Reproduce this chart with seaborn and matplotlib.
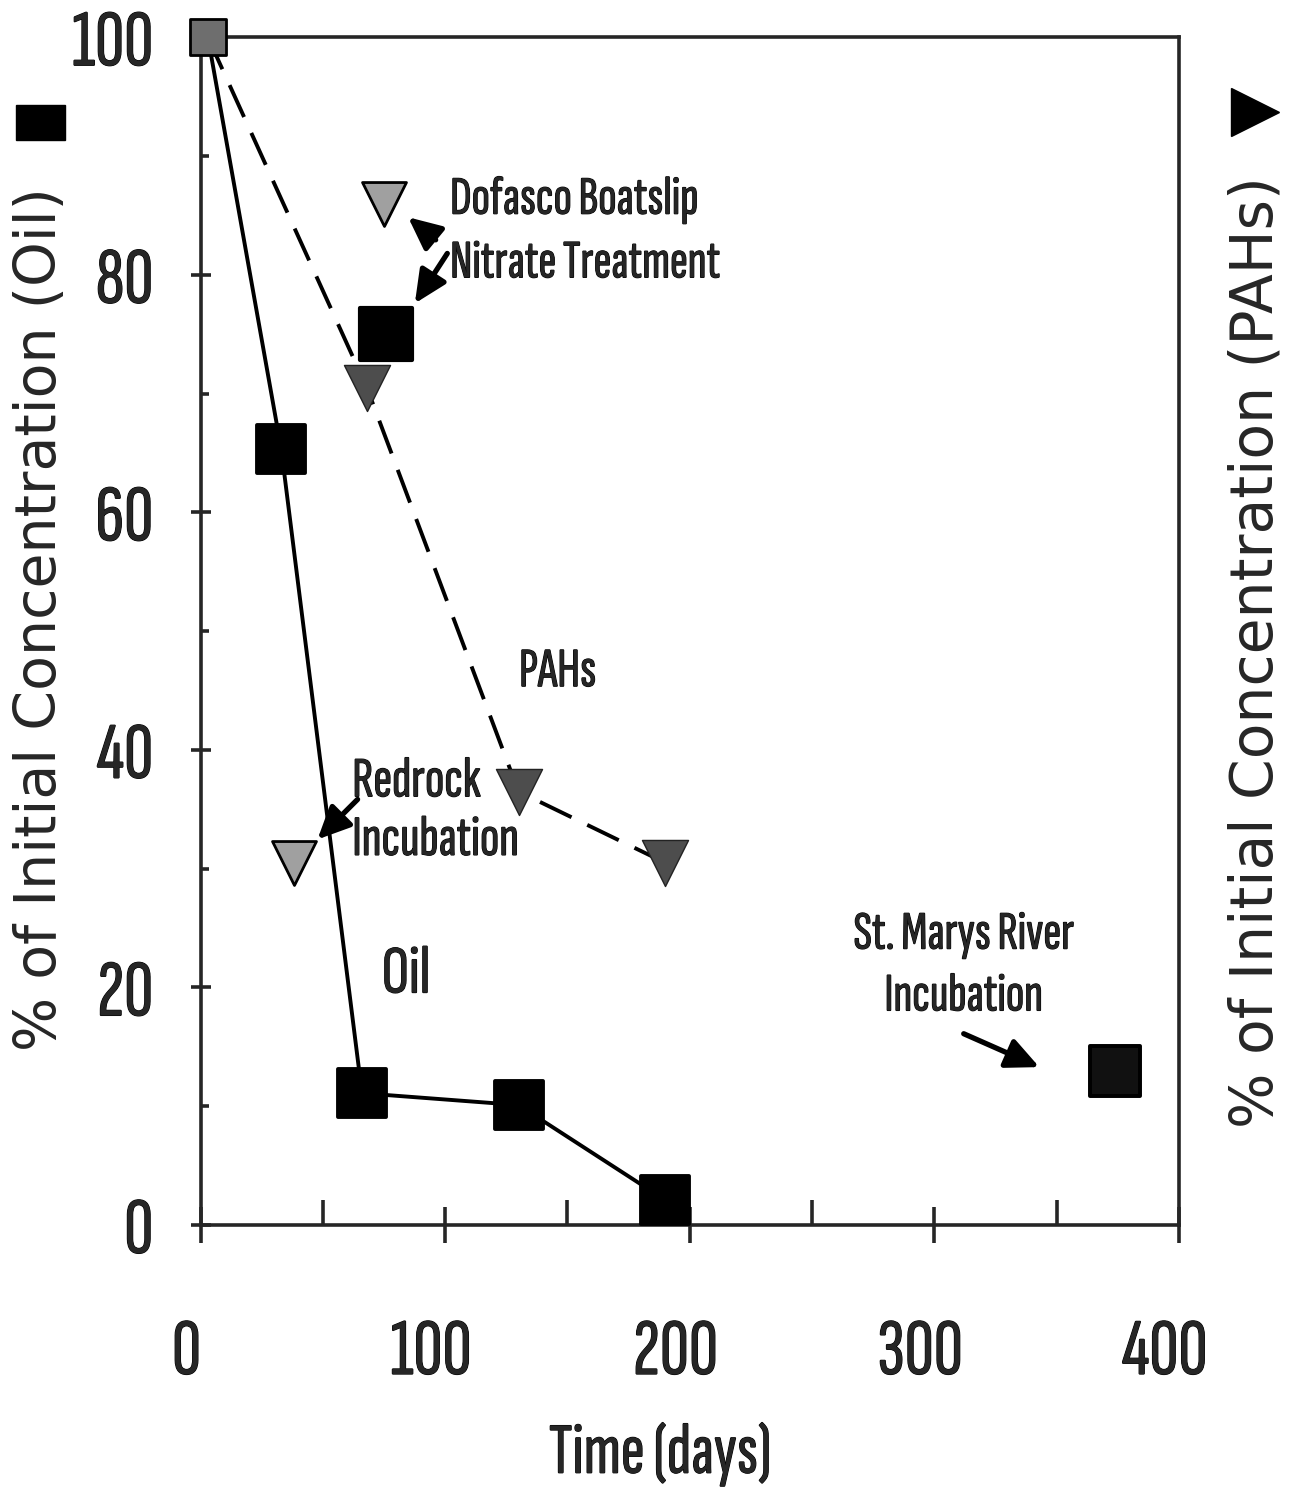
import numpy as np
import pandas as pd
import seaborn as sns
import matplotlib.pyplot as plt
import matplotlib.transforms as mtransforms
import matplotlib.patheffects as pe
from matplotlib.patches import Rectangle

# main incubation series (days, % of initial concentration)
oil_days = [3, 33, 66, 130, 190]
oil_pct = [100, 65.3, 11.1, 10.1, 2.1]
pah_days = [3, 68, 130, 190]
pah_pct = [100, 70.5, 36.5, 30.5]

# single-site points
dofasco_days = [76]
dofasco_oil = [75]
dofasco_pah_days = [75]
dofasco_pah = [86]
redrock_days = [38]
redrock_pah = [30.5]
stmarys_days = [374]
stmarys_oil = [13]

x_ticks = [0, 100, 200, 300, 400]
y_ticks = [0, 20, 40, 60, 80, 100]

sns.set_style("ticks")
narrow = ["Sofia Sans Extra Condensed", "Roboto Condensed", "DejaVu Sans"]
wide = ["DejaVu Sans"]
plt.rcParams["font.family"] = narrow
bold = [pe.withStroke(linewidth=0.8, foreground="black")]

fig = plt.figure(figsize=(12.94, 14.93), dpi=100)
ax = fig.add_axes([0.155, 0.1795, 0.756, 0.7955])

oil = pd.DataFrame({"days": oil_days, "pct": oil_pct})
pah = pd.DataFrame({"days": pah_days, "pct": pah_pct})

sns.lineplot(data=pah, x="days", y="pct", ax=ax, color="black", lw=2.8, zorder=2)
ax.lines[-1].set_dashes([9, 4.5])
sns.lineplot(data=oil, x="days", y="pct", ax=ax, color="black", lw=2.8, zorder=2)

sns.scatterplot(x=pah_days[1:], y=pah_pct[1:], ax=ax, marker="v", s=1100,
                color="#4d4d4d", edgecolor="#222222", linewidth=1, zorder=3)
sns.scatterplot(x=oil_days[1:], y=oil_pct[1:], ax=ax, marker="s", s=1200,
                color="black", edgecolor="black", zorder=4)
sns.scatterplot(x=oil_days[:1], y=oil_pct[:1], ax=ax, marker="s", s=650,
                color="#6e6e6e", edgecolor="black", linewidth=2, zorder=5, clip_on=False)
sns.scatterplot(x=dofasco_days, y=dofasco_oil, ax=ax, marker="s", s=1400,
                color="black", edgecolor="black", zorder=4)
sns.scatterplot(x=stmarys_days, y=stmarys_oil, ax=ax, marker="s", s=1250,
                color="#111111", edgecolor="black", zorder=4)
sns.scatterplot(x=dofasco_pah_days + redrock_days, y=dofasco_pah + redrock_pah, ax=ax,
                marker="v", s=1000, color="#a0a0a0", edgecolor="black", linewidth=2, zorder=3)

ax.set_xlim(0, 400)
ax.set_ylim(0, 100)
ax.set_xticks(x_ticks)
ax.set_yticks(y_ticks)
ax.set_xticks(np.arange(50, 400, 100), minor=True)
ax.set_yticks(np.arange(10, 100, 20), minor=True)
ax.set_xlabel("")
ax.set_ylabel("")
for s in ax.spines.values():
    s.set_visible(True)
    s.set_linewidth(2.6)
ax.tick_params(axis="x", which="major", direction="inout", length=26, width=2.6,
               pad=54, labelsize=58)
ax.tick_params(axis="x", which="minor", direction="in", length=18, width=2.6)
ax.tick_params(axis="y", which="major", direction="inout", length=14, width=2.6,
               pad=27, labelsize=58)
ax.tick_params(axis="y", which="minor", direction="in", length=6, width=2.6)
shift = mtransforms.ScaledTranslation(-14 / 100, 0, fig.dpi_scale_trans)
for lab in ax.get_xticklabels():
    lab.set_transform(lab.get_transform() + shift)
for lab in ax.get_xticklabels() + ax.get_yticklabels():
    lab.set_path_effects(bold)

# annotations
arrow = dict(arrowstyle="-|>,head_length=0.9,head_width=0.42", color="black", lw=3.8,
             mutation_scale=22)
ax.text(102, 83.6, "Dofasco Boatslip\nNitrate Treatment", fontsize=39,
        ha="left", va="center", linespacing=1.45, path_effects=bold)
ax.annotate("", xy=(84, 85), xytext=(97, 82.8), arrowprops=arrow)
ax.annotate("", xy=(87, 77.4), xytext=(101.5, 82), arrowprops=arrow)
ax.text(146, 46.5, "PAHs", fontsize=40, ha="center", va="center", path_effects=bold)
ax.text(62, 34.8, "Redrock\nIncubation", fontsize=41, ha="left", va="center",
        linespacing=1.22, path_effects=bold)
ax.annotate("", xy=(47, 32.3), xytext=(65, 36), arrowprops=arrow)
ax.text(84, 21.0, "Oil", fontsize=49, ha="center", va="center", path_effects=bold)
ax.text(312, 21.8, "St. Marys River\nIncubation", fontsize=39, ha="center", va="center",
        linespacing=1.4, path_effects=bold)
ax.annotate("", xy=(344, 13.2), xytext=(311, 16.2), arrowprops=arrow)

fig.text(0.51, 0.026, "Time (days)", fontsize=52, ha="center", va="center",
         path_effects=bold)
fig.text(0.031, 0.585, "% of Initial Concentration (Oil)", fontsize=41, rotation=90,
         ha="center", va="center", family=wide)
fig.text(0.971, 0.563, "% of Initial Concentration (PAHs)", fontsize=42, rotation=90,
         ha="center", va="center", family=wide)
fig.add_artist(Rectangle((0.012, 0.906), 0.038, 0.024, transform=fig.transFigure,
                         color="black"))
ax.plot([0.970], [0.925], marker=">", markersize=34, color="black",
        transform=fig.transFigure, clip_on=False)

fig.savefig("out.png", dpi=100)
